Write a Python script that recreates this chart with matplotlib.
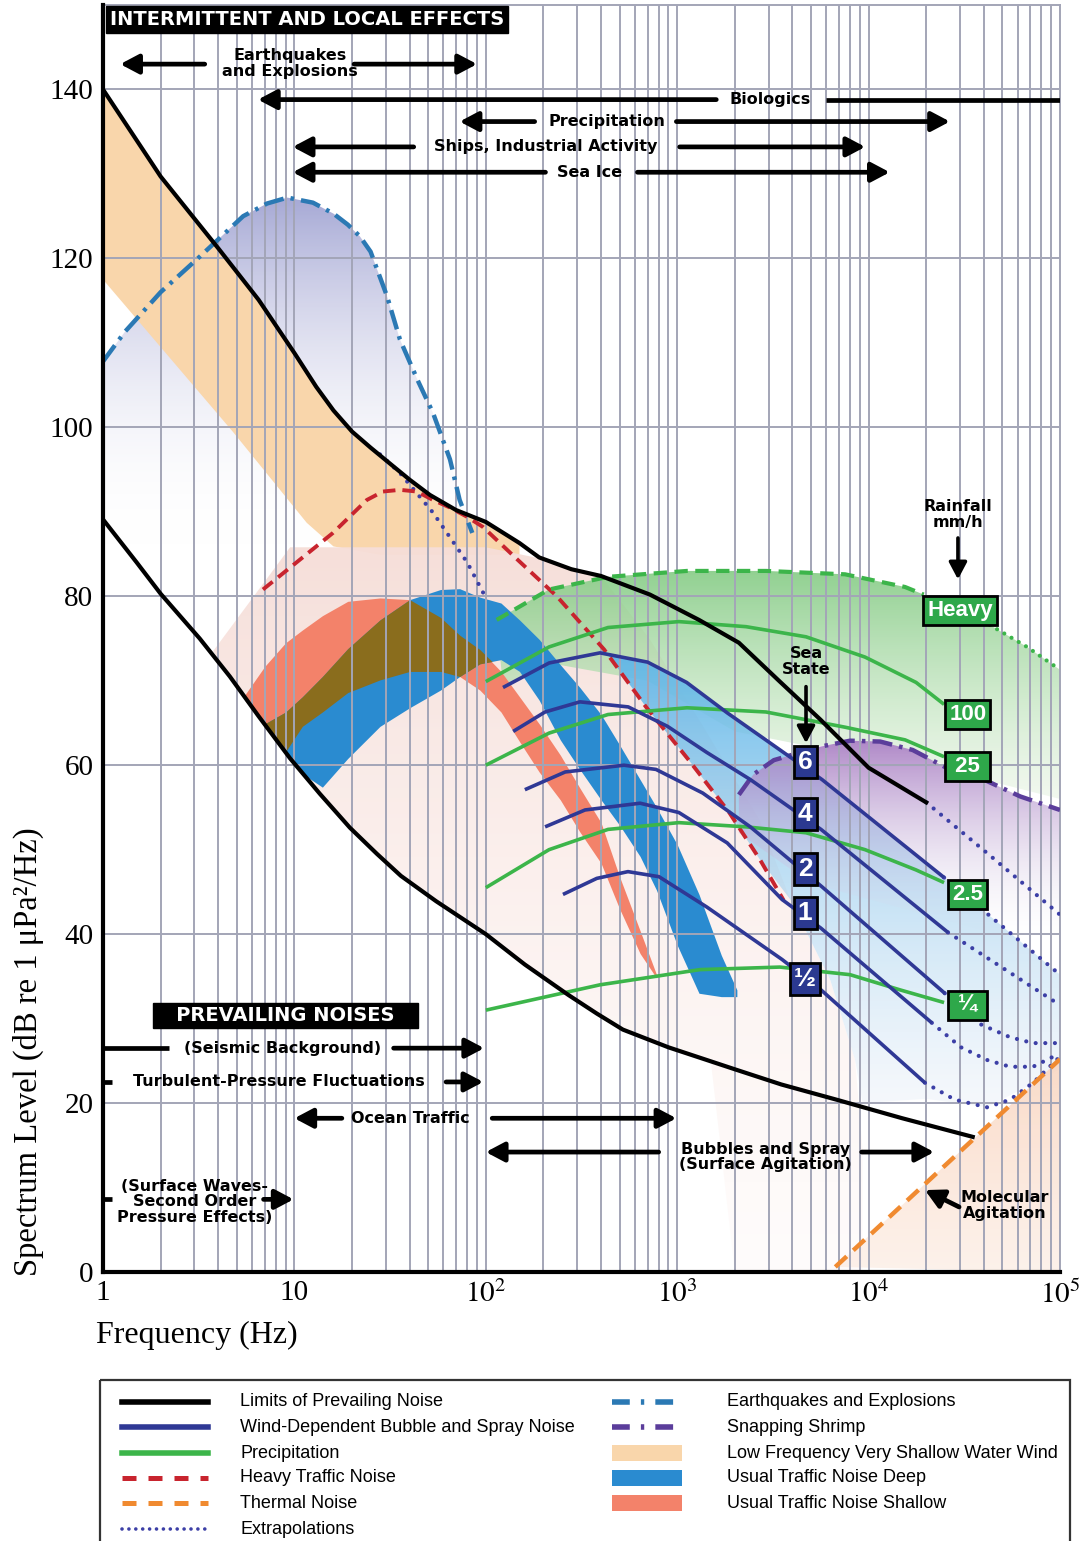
import numpy as np
import matplotlib
matplotlib.use("Agg")
import matplotlib.pyplot as plt
from matplotlib.patches import Polygon, Rectangle
from matplotlib.colors import to_rgb
from matplotlib.ticker import LogLocator, NullFormatter

plt.rcParams['font.family'] = ['Liberation Serif', 'DejaVu Serif']
plt.rcParams['mathtext.fontset'] = 'stix'

# ---------------- values (Hz, dB) ----------------
lim_hi_f = [1, 2, 4, 6.5, 10, 13, 16, 20, 25, 32, 40, 51, 70, 100, 150, 190, 280, 400, 720, 1300, 2100, 3400, 5600, 10000, 20000]
lim_hi_db = [140, 129.7, 121.2, 115.1, 108.8, 104.8, 102.0, 99.5, 97.6, 95.6, 93.8, 92.0, 90.2, 88.8, 86.3, 84.6, 83.2, 82.4, 80.2, 77.2, 74.5, 70.0, 65.4, 59.7, 55.6]
lim_lo_f = [1, 1.5, 2, 3.2, 4.6, 6.5, 9.5, 13.6, 19.5, 27, 36, 55, 100, 160, 270, 380, 520, 900, 2000, 3500, 6800, 15000, 35000]
lim_lo_db = [89.1, 84.0, 80.3, 75.0, 70.5, 65.8, 60.8, 56.6, 52.6, 49.5, 46.9, 43.9, 40.0, 36.4, 32.8, 30.6, 28.7, 26.6, 24.0, 22.2, 20.4, 18.2, 16.0]

quake_f = [1, 1.3, 2, 3.2, 5.4, 7.2, 9.2, 12.5, 16, 19, 22, 25, 30.5, 35.6, 44, 53, 65, 73, 85]
quake_db = [107.8, 111.3, 116, 120.2, 125, 126.5, 127.2, 126.6, 125.3, 124.0, 122.6, 120.8, 115.5, 110.4, 105.6, 101.7, 96.2, 91.4, 87.5]

shallow_wind_lo_f = [1, 4.8, 11.6, 16, 28, 150]
shallow_wind_lo_db = [117.5, 99.4, 88.7, 85.9, 84.9, 84.9]

heavy_traffic_f = [6.85, 9.15, 15.9, 23.9, 29, 35.6, 43.6, 53, 65, 80, 96.7, 147, 235, 415, 687, 1150, 1870, 2710, 3600]
heavy_traffic_db = [80.8, 83.1, 87.5, 91.4, 92.4, 92.6, 92.4, 91.4, 90.5, 89.4, 88.2, 84.3, 80, 73.7, 66.9, 60.6, 54.4, 48.8, 44.0]

traffic_region_f = [3.76, 9.5, 100, 190, 400, 720, 1300, 2700, 3900, 6300, 8500, 9300, 9300, 2000, 1500, 900, 520, 270, 100, 36, 19.5, 9.5]
traffic_region_db = [73.5, 85.8, 85.8, 84.5, 82.4, 74.9, 65.4, 53.5, 44.1, 34.6, 25.1, 14.5, 0, 0, 24.9, 26.6, 28.7, 32.8, 40, 46.9, 52.6, 60.8]

traffic_f = [5.5, 7, 9, 11, 14, 19, 28, 40, 58, 73, 93, 120, 150, 190, 245, 310, 400, 500, 640, 780, 1000, 1300, 1700, 2050]
shallow_hi = [68.3, 71.7, 74.5, 76.0, 77.7, 79.4, 79.8, 79.6, 77.5, 75.4, 73.7, 71.1, 68.1, 64.9, 61.2, 57.3, 53.2, 46.8, 40.4, 35.2]
shallow_lo = [67.7, 64.9, 61.6, 64.6, 66.3, 68.6, 70.1, 71.1, 71.1, 70.5, 68.9, 66.3, 62.8, 59.2, 55.9, 52.1, 48.4, 43.0, 37.7, 34.8]
deep_hi = [64.9, 66.3, 68.1, 70.5, 73.8, 77.2, 79.6, 80.8, 80.9, 79.9, 79.2, 77.2, 74.9, 71.9, 69.2, 66.0, 62.4, 58.3, 55.0, 50.6, 44.7, 37.5, 33.4]
deep_lo = [64.9, 61.2, 59.0, 57.4, 60.8, 64.6, 66.8, 68.9, 70.5, 72.0, 72.5, 71.1, 67.7, 63.0, 59.5, 55.9, 52.9, 49.2, 45.2, 38.7, 33.0, 32.6, 32.6]

rain_heavy_f = [114, 214, 435, 1125, 2910, 7530, 15500, 19400]
rain_heavy_db = [77.2, 80.8, 82.3, 83.0, 83.0, 82.6, 81.1, 80.2]
rain_heavy_ext_f = [43000, 67300, 100000]
rain_heavy_ext_db = [76.6, 74.0, 71.3]
rain100_f = [100, 214, 435, 1020, 2290, 4710, 9580, 17700, 24800]
rain100_db = [69.9, 74.0, 76.3, 77.0, 76.4, 75.2, 72.8, 69.8, 67.2]
rain25_f = [100, 214, 435, 1125, 2910, 7530, 15500, 24800]
rain25_db = [60.0, 63.8, 66.0, 66.8, 66.3, 64.5, 63.0, 61.0]
rain2_5_f = [100, 214, 435, 1020, 2290, 4710, 9580, 17700, 24800]
rain2_5_db = [45.5, 50.0, 52.4, 53.2, 52.7, 52.0, 50.0, 47.6, 46.1]
rain_q_f = [100, 395, 1315, 3440, 8000, 14600, 24800]
rain_q_db = [31.0, 34.0, 35.8, 36.1, 35.2, 33.4, 31.9]
rain_labels = ['Heavy', '100', ' 25 ', '2.5', ' ¼ ']
rain_label_db = [78.3, 66.0, 59.8, 44.7, 31.6]

ss6_f = [123, 214, 395, 701, 1120, 1825, 2900, 5710, 24800]
ss6_db = [69.2, 72.1, 73.3, 72.2, 69.8, 66.2, 63.0, 58.3, 46.7]
ss4_f = [139, 204, 310, 555, 890, 1430, 2410, 5640, 26000]
ss4_db = [64.0, 66.3, 67.5, 66.9, 64.6, 61.5, 58.3, 52.4, 40.2]
ss2_f = [160, 260, 527, 775, 1360, 2410, 5710, 25000]
ss2_db = [57.1, 59.2, 60.0, 59.5, 56.7, 52.7, 45.6, 33.0]
ss1_f = [204, 330, 640, 1020, 1825, 3530, 5640, 21400]
ss1_db = [52.7, 54.7, 55.5, 54.4, 50.8, 44.1, 40.7, 29.5]
ss05_f = [253, 380, 553, 803, 1430, 3530, 5640, 19700]
ss05_db = [44.7, 46.6, 47.4, 46.8, 43.2, 37.0, 33.4, 22.4]
ss_labels = ['6', '4', '2', '1', '½']
ss_label_db = [60.4, 54.2, 47.7, 42.5, 34.7]

ext_lowf_f = [28, 35.6, 53, 80, 97]
ext_lowf_db = [96.8, 94.6, 89.9, 84, 80.4]
ext_lim_f = [20000, 41600, 100000]
ext_lim_db = [55.6, 49.6, 42.3]
ext_ss6_f = [24800, 100000]
ext_ss6_db = [46.7, 35.2]
ext_ss4_f = [26000, 100000]
ext_ss4_db = [40.2, 31.6]
ext_ss2_f = [25000, 38700, 54800, 72300, 100000]
ext_ss2_db = [33.0, 29.3, 27.8, 27.1, 27.1]
ext_ss1_f = [21400, 30400, 41600, 54800, 72300, 100000]
ext_ss1_db = [29.5, 26.6, 25.1, 24.3, 24.3, 25.9]
ext_ss05_f = [19700, 28200, 41600, 54800, 72300, 100000]
ext_ss05_db = [22.4, 20.4, 19.5, 20.4, 22.4, 25.5]

shrimp_f = [2100, 2500, 3200, 5600, 8000, 11500, 17000, 25000, 40000, 62000, 100000]
shrimp_db = [56.5, 58.9, 60.6, 62.2, 62.9, 62.8, 61.8, 59.8, 58.3, 56.3, 54.7]

thermal_f = [6700, 100000]
thermal_db = [0.6, 25.2]

wind_region_f = [395, 701, 1120, 1825, 2900, 5710, 24800, 100000, 100000, 41600, 20000, 9300, 8500, 6300, 3900, 2710, 1870, 1150, 687, 415]
wind_region_db = [73.3, 72.2, 69.8, 66.2, 63.0, 58.3, 46.7, 35.2, 24, 19.5, 20.5, 20, 25.1, 34.6, 44.1, 48.8, 54.4, 60.6, 66.9, 73.7]
rain_region_lo_f = [100000, 40000, 11500, 5000, 2000, 700, 214, 123]
rain_region_lo_db = [56, 58.3, 62.8, 62.2, 64, 70, 72.1, 69.2]

# ---------------- figure ----------------
fig = plt.figure(figsize=(10.88, 15.41), dpi=100)
ax = fig.add_axes([103 / 1088, 1 - 1272 / 1541, 957 / 1088, 1267 / 1541])
ax.set_xscale('log')
ax.set_xlim(1, 1e5)
ax.set_ylim(0, 150)
ax.set_autoscale_on(False)

GRID = '#a3a5b7'
BLACK = '#000000'
SSBLUE = '#2f3895'
GREEN = '#3cb54a'
RED = '#c8242e'
ORANGE = '#f08a30'
QUAKE = '#2b79b4'
SHRIMP = '#5b3d9b'
DOTS = '#3c3fa6'
PEACH = '#f9d6ab'
SALMON = '#f3826a'
DEEP = '#2a8bd0'
OLIVE = '#8a6d1d'
PINK = '#f6ddd7'


def grad_poly(fs, dbs, c_top, c_bot, db_top, db_bot, a_top, a_bot, z):
    poly = Polygon(np.column_stack([fs, dbs]), closed=True, facecolor='none',
                   edgecolor='none', transform=ax.transData)
    ax.add_patch(poly)
    n = 256
    t = np.linspace(0, 1, n)
    c0 = np.array(to_rgb(c_bot))
    c1 = np.array(to_rgb(c_top))
    rgba = np.ones((n, 2, 4))
    rgba[:, :, :3] = (c0[None, :] + (c1 - c0)[None, :] * t[:, None])[:, None, :]
    rgba[:, :, 3] = (a_bot + (a_top - a_bot) * t)[:, None]
    im = ax.imshow(rgba, extent=(0, 1, db_bot / 150, db_top / 150), transform=ax.transAxes,
                   origin='lower', aspect='auto', interpolation='bilinear', zorder=z)
    im.set_clip_path(poly)


# earthquake lavender
grad_poly(quake_f + [85, 1], quake_db + [86, 86], '#a3a6d4', '#ffffff', 128, 86, 1.0, 0.0, 1.0)

# low-frequency very shallow water wind band (below upper limit line)
hi_mask = [f <= 150 for f in lim_hi_f]
pf = [f for f, m in zip(lim_hi_f, hi_mask) if m] + shallow_wind_lo_f[::-1]
pd = [d for d, m in zip(lim_hi_db, hi_mask) if m] + shallow_wind_lo_db[::-1]
ax.add_patch(Polygon(np.column_stack([pf, pd]), closed=True, facecolor=PEACH, edgecolor='none', zorder=1.1))

# heavy traffic region (light pink)
grad_poly(traffic_region_f, traffic_region_db, PINK, '#fdf3f1', 90, 0, 1.0, 0.25, 1.2)

# precipitation region (green)
gf = rain_heavy_f + rain_heavy_ext_f + rain_region_lo_f
gd = rain_heavy_db + rain_heavy_ext_db + rain_region_lo_db
grad_poly(gf, gd, '#86cc86', '#e4f2df', 84, 56, 0.95, 0.5, 1.3)

# wind-dependent region (light blue)
grad_poly(wind_region_f, wind_region_db, '#5cb5e8', '#eef1f8', 74, 18, 0.95, 0.4, 1.4)

# snapping shrimp (purple)
grad_poly(shrimp_f + [100000, 5000, 2100], shrimp_db + [38, 46, 52], '#a77bc2', '#e6e4f0', 63.5, 40, 0.95, 0.0, 1.5)

# thermal shading
grad_poly(thermal_f + [100000], thermal_db + [0], '#f9d5bf', '#fce9de', 26, 0, 0.9, 0.6, 1.6)

# traffic ribbons
tf = np.array(traffic_f)
ax.fill_between(tf[:20], shallow_lo, shallow_hi, color=SALMON, lw=0, zorder=1.7)
ax.fill_between(tf[1:], deep_lo, deep_hi, color=DEEP, lw=0, zorder=1.8)
o_lo = np.maximum(np.array(shallow_lo[1:]), np.array(deep_lo[:19]))
o_hi = np.minimum(np.array(shallow_hi[1:]), np.array(deep_hi[:19]))
ax.fill_between(tf[1:20], o_lo, o_hi, where=o_hi > o_lo, interpolate=True, color=OLIVE, lw=0, zorder=1.9)

# ---------------- lines ----------------
dotted = dict(color=DOTS, lw=3.0, linestyle=(0, (0.01, 2.3)), dash_capstyle='round', zorder=3.2)
ax.plot(ext_lowf_f, ext_lowf_db, **dotted)
ax.plot(ext_lim_f, ext_lim_db, **dotted)
for ef, ed in [(ext_ss6_f, ext_ss6_db), (ext_ss4_f, ext_ss4_db), (ext_ss2_f, ext_ss2_db),
               (ext_ss1_f, ext_ss1_db), (ext_ss05_f, ext_ss05_db)]:
    ax.plot(ef, ed, **dotted)

ax.plot(quake_f, quake_db, color=QUAKE, lw=3.2, linestyle=(0, (4.5, 1.6, 0.8, 1.6)), zorder=3.3)
ax.plot(shrimp_f, shrimp_db, color=SHRIMP, lw=3.2, linestyle=(0, (4.5, 1.6, 0.8, 1.6)), zorder=3.3)
ax.plot(heavy_traffic_f, heavy_traffic_db, color=RED, lw=2.8, linestyle=(0, (3.2, 1.8)), zorder=3.4)
ax.plot(thermal_f, thermal_db, color=ORANGE, lw=3.2, linestyle=(0, (3.5, 2.0)), zorder=3.4)

for rf, rd in [(rain100_f, rain100_db), (rain25_f, rain25_db), (rain2_5_f, rain2_5_db), (rain_q_f, rain_q_db)]:
    ax.plot(rf, rd, color=GREEN, lw=2.6, zorder=3.5, solid_capstyle='butt')
ax.plot(rain_heavy_f, rain_heavy_db, color=GREEN, lw=3.0, linestyle=(0, (3.2, 1.8)), zorder=3.5)
ax.plot(rain_heavy_ext_f, rain_heavy_ext_db, color=GREEN, lw=3.0, linestyle=(0, (0.01, 2.0)),
        dash_capstyle='round', zorder=3.5)

for sf, sd in [(ss6_f, ss6_db), (ss4_f, ss4_db), (ss2_f, ss2_db), (ss1_f, ss1_db), (ss05_f, ss05_db)]:
    ax.plot(sf, sd, color=SSBLUE, lw=2.6, zorder=3.6, solid_capstyle='butt')

ax.plot(lim_hi_f, lim_hi_db, color=BLACK, lw=3.0, zorder=3.8)
ax.plot(lim_lo_f, lim_lo_db, color=BLACK, lw=3.0, zorder=3.8)

# ---------------- axes styling ----------------
ax.set_axisbelow(False)
ax.set_xticks([1, 10, 100, 1e3, 1e4, 1e5])
ax.set_xticklabels(['1', '10', r'$10^2$', r'$10^3$', r'$10^4$', r'$10^5$'])
ax.xaxis.set_minor_locator(LogLocator(base=10, subs=np.arange(2, 10), numticks=100))
ax.xaxis.set_minor_formatter(NullFormatter())
ax.set_yticks(np.arange(0, 141, 20))
ax.grid(which='major', axis='both', color=GRID, lw=1.4)
ax.grid(which='minor', axis='x', color=GRID, lw=1.4)
ax.tick_params(which='both', length=0, labelsize=21)
ax.tick_params(axis='x', pad=6)
ax.tick_params(axis='y', pad=7)
for s in ['left', 'bottom']:
    ax.spines[s].set_linewidth(3.0)
    ax.spines[s].set_color('black')
    ax.spines[s].set_zorder(5)
for s in ['top', 'right']:
    ax.spines[s].set_linewidth(1.4)
    ax.spines[s].set_color(GRID)

fig.text(28 / 1088, 1 - 1052 / 1541, 'Spectrum Level (dB re 1 μPa²/Hz)', rotation=90,
         ha='center', va='center', fontsize=23.5)
fig.text(96 / 1088, 1 - 1335 / 1541, 'Frequency (Hz)', ha='left', va='center', fontsize=23)

# ---------------- annotations ----------------
LAB = dict(ha='center', va='center', fontsize=11.5, fontweight='bold', family='DejaVu Sans',
           zorder=7, linespacing=1.05)
HEAD = dict(ha='center', va='center', color='white', fontsize=14, fontweight='bold',
            family='DejaVu Sans', zorder=8)


def harrow(f_tail, f_head, db):
    ax.annotate('', xy=(f_head, db), xytext=(f_tail, db),
                arrowprops=dict(arrowstyle='-|>,head_length=0.85,head_width=0.45', color='black',
                                lw=3.4, shrinkA=0, shrinkB=0, mutation_scale=13), zorder=7)


def hbar(f0, f1, db):
    ax.plot([f0, f1], [db, db], color='black', lw=3.4, solid_capstyle='butt', zorder=7)


ax.text(11.7, 148.3, 'INTERMITTENT AND LOCAL EFFECTS', **HEAD,
        bbox=dict(boxstyle='square,pad=0.2', fc='black', ec='black'))
ax.text(9.0, 30.4, '   PREVAILING NOISES   ', **HEAD,
        bbox=dict(boxstyle='square,pad=0.15', fc='black', ec='black'))

ax.text(9.5, 143.1, 'Earthquakes\nand Explosions', **LAB)
harrow(3.4, 1.23, 143.0)
harrow(20.5, 90, 143.0)

ax.text(3050, 138.8, 'Biologics', **LAB)
harrow(1600, 6.45, 138.8)
hbar(6000, 1e5, 138.8)

ax.text(430, 136.2, 'Precipitation', **LAB)
harrow(180, 73, 136.2)
harrow(990, 26600, 136.2)

ax.text(206, 133.2, 'Ships, Industrial Activity', **LAB)
harrow(42, 9.8, 133.2)
harrow(1030, 9600, 133.2)

ax.text(350, 130.2, 'Sea Ice', **LAB)
harrow(205, 9.8, 130.2)
harrow(620, 12900, 130.2)

ax.text(8.7, 26.5, '(Seismic Background)', **LAB)
hbar(1, 2.2, 26.5)
harrow(33, 98, 26.5)

ax.text(8.3, 22.5, 'Turbulent-Pressure Fluctuations', **LAB)
hbar(1, 1.12, 22.5)
harrow(62, 97, 22.5)

ax.text(40.6, 18.2, 'Ocean Traffic', **LAB)
harrow(17.7, 10, 18.2)
harrow(108, 990, 18.2)

ax.text(2900, 13.6, 'Bubbles and Spray\n(Surface Agitation)', **LAB)
harrow(800, 100, 14.2)
harrow(9200, 22000, 14.2)

ax.text(3.0, 8.3, '(Surface Waves-\nSecond Order\nPressure Effects)', **LAB)
hbar(1, 1.12, 8.6)
harrow(6.9, 9.9, 8.6)

ax.text(51600, 7.9, 'Molecular\nAgitation', **LAB)
ax.annotate('', xy=(19700, 9.7), xytext=(29700, 7.7),
            arrowprops=dict(arrowstyle='-|>,head_length=0.85,head_width=0.45', color='black',
                            lw=3.4, shrinkA=0, shrinkB=0, mutation_scale=13), zorder=7)

ax.text(29300, 89.7, 'Rainfall\nmm/h', **LAB)
ax.annotate('', xy=(29300, 82.0), xytext=(29300, 86.9),
            arrowprops=dict(arrowstyle='-|>,head_length=0.85,head_width=0.45', color='black',
                            lw=2.6, shrinkA=0, shrinkB=0, mutation_scale=12), zorder=7)
ax.text(4710, 72.3, 'Sea\nState', **LAB)
ax.annotate('', xy=(4710, 62.6), xytext=(4710, 69.3),
            arrowprops=dict(arrowstyle='-|>,head_length=0.85,head_width=0.45', color='black',
                            lw=2.6, shrinkA=0, shrinkB=0, mutation_scale=12), zorder=7)

rain_x = [30000, 33000, 33000, 33000, 33000]
for fx, d, s in zip(rain_x, rain_label_db, rain_labels):
    ax.text(fx, d, s, color='white', ha='center', va='center', fontsize=16, fontweight='bold',
            family=['Liberation Sans Narrow', 'Liberation Sans'], zorder=9,
            bbox=dict(boxstyle='square,pad=0.18', fc='#2ea84a', ec='black', lw=2))
for d, s in zip(ss_label_db, ss_labels):
    ax.text(4660, d, s, color='white', ha='center', va='center', fontsize=19, fontweight='bold',
            family='Liberation Sans', zorder=9,
            bbox=dict(boxstyle='square,pad=0.16', fc='#2b3990', ec='black', lw=2))

ax.set_xlim(1, 1e5)
ax.set_ylim(0, 150)

# ---------------- legend (drawn in figure pixel space) ----------------
lg = fig.add_axes([0, 0, 1, 1])
lg.set_xlim(0, 1088)
lg.set_ylim(1541, 0)
lg.axis('off')
lg.add_patch(Rectangle((100, 1380), 970, 200, fill=False, ec='#333333', lw=1.6))

leg_left = ['Limits of Prevailing Noise', 'Wind-Dependent Bubble and Spray Noise', 'Precipitation',
            'Heavy Traffic Noise', 'Thermal Noise', 'Extrapolations']
leg_right = ['Earthquakes and Explosions', 'Snapping Shrimp', 'Low Frequency Very Shallow Water Wind',
             'Usual Traffic Noise Deep', 'Usual Traffic Noise Shallow']
rows = [1402, 1427, 1453, 1478, 1503, 1529]
LEGTXT = dict(ha='left', va='center', fontsize=13, family=['Liberation Sans Narrow', 'Liberation Sans'])

left_styles = [dict(color=BLACK, lw=4.0), dict(color=SSBLUE, lw=4.0), dict(color=GREEN, lw=4.0),
               dict(color=RED, lw=3.6, linestyle=(0, (2.8, 2.4))),
               dict(color=ORANGE, lw=3.6, linestyle=(0, (2.8, 2.4))),
               dict(color=DOTS, lw=2.6, linestyle=(0, (0.01, 1.9)), dash_capstyle='round')]
for y, txt, st in zip(rows, leg_left, left_styles):
    lg.plot([122, 208], [y, y], **st)
    lg.text(240, y, txt, **LEGTXT)

for y, c in zip(rows[:2], [QUAKE, SHRIMP]):
    lg.plot([612, 684], [y, y], color=c, lw=4.0, linestyle=(0, (3.2, 2.0, 0.6, 2.0)))
for y, c in zip(rows[2:5], [PEACH, DEEP, SALMON]):
    lg.add_patch(Rectangle((612, y - 8), 70, 16, fc=c, ec='none'))
for y, txt in zip(rows[:5], leg_right):
    lg.text(727, y, txt, **LEGTXT)

fig.savefig('out.png', dpi=100)
